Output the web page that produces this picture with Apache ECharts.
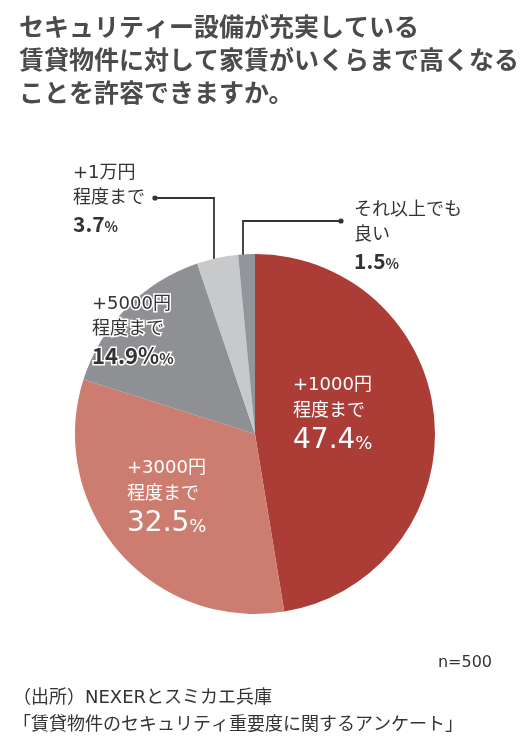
<!DOCTYPE html>
<html>
<head>
<meta charset="utf-8">
<script src="https://cdn.jsdelivr.net/npm/echarts@6/dist/echarts.min.js"></script>
<style>
html,body{margin:0;padding:0;background:#fff;}
#main{width:532px;height:742px;}
</style>
</head>
<body>
<div id="main"></div>
<script>
// ---- data ----
var categories = ['+1000円程度まで', '+3000円程度まで', '+5000円程度まで', '+1万円程度まで', 'それ以上でも良い'];
var labelLines1 = ['+1000円', '+3000円', '+5000円', '+1万円', 'それ以上でも'];
var labelLines2 = ['程度まで', '程度まで', '程度まで', '程度まで', '良い'];
var values = [47.4, 32.5, 14.9, 3.7, 1.5];
var valueSuffix = ['%', '%', '%%', '%', '%'];
var titleLines = ['セキュリティー設備が充実している', '賃貸物件に対して家賃がいくらまで高くなる', 'ことを許容できますか。'];
var sampleNote = 'n=500';
var sourceLines = ['（出所）NEXERとスミカエ兵庫', '「賃貸物件のセキュリティ重要度に関するアンケート」'];

// ---- styles ----
var FONT = '"Noto Sans CJK JP", "Noto Sans", sans-serif';
var FONT_L = '"DejaVu Sans", "Noto Sans CJK JP", sans-serif';
var colors = ['#ab3c36', '#cd7d70', '#8f9094', '#c8c9cb', '#94959a'];
var CX = 255, CY = 434, R = 180;
var labelPos = [
  {x: 293, y: 372},
  {x: 127, y: 455},
  {x: 92, y: 292},
  {x: 73, y: 161},
  {x: 354, y: 198}
];
var linePts = {
  3: [[214, 288], [214, 198], [155, 198]],
  4: [[243, 263], [243, 221], [341, 221]]
};

function richFor(i) {
  var white = i < 2;
  var col = white ? '#ffffff' : '#333333';
  var lh = i < 2 ? 26 : 25;
  var base = {color: col};
  if (i === 2) { base.textBorderColor = '#ffffff'; base.textBorderWidth = 3; }
  var bigFont = i < 2 ? FONT_L : FONT;
  var big = i < 2 ? 28 : (i === 2 ? 22 : 21);
  var lhBig = big + 6;
  var shift = i < 2 ? 7 : 5;
  return {
    a: Object.assign({fontFamily: FONT_L, fontSize: 18, lineHeight: lh}, base),
    b: Object.assign({fontFamily: bigFont, fontSize: big, lineHeight: lhBig, fontWeight: i < 2 ? 'normal' : 'bold'}, base),
    c: Object.assign({fontFamily: bigFont, fontSize: Math.round(big * 0.66), lineHeight: lhBig - shift, padding: [shift, 0, 0, 0], fontWeight: i < 2 ? 'normal' : 'bold'}, base),
    d: Object.assign({fontFamily: bigFont, fontSize: big, lineHeight: lhBig, fontWeight: 'bold'}, base)
  };
}

var pieData = categories.map(function (name, i) {
  var suffix = valueSuffix[i];
  var numPart = '{b|' + values[i].toFixed(1) + '}';
  var sufPart = suffix === '%%' ? '{d|%}{c|%}' : '{c|%}';
  return {
    name: name,
    value: values[i],
    itemStyle: {color: colors[i]},
    label: {
      show: true,
      position: i < 3 ? 'inside' : 'outside',
      formatter: '{a|' + labelLines1[i] + '}\n{a|' + labelLines2[i] + '}\n' + numPart + sufPart,
      rich: richFor(i),
      align: 'left'
    },
    labelLine: {
      show: i >= 3,
      lineStyle: {color: '#333333', width: 1.8}
    }
  };
});

var chart = echarts.init(document.getElementById('main'), null, {renderer: 'canvas'});

var option = {
  backgroundColor: '#ffffff',
  animation: false,
  title: [
    {
      text: titleLines.join('\n'),
      left: 14, top: 5,
      textStyle: {fontFamily: FONT, fontSize: 25, fontWeight: 'bold', color: '#4b4b4b', lineHeight: 33}
    },
    {
      text: sampleNote,
      right: 35, top: 650,
      textStyle: {fontFamily: FONT_L, fontSize: 16, fontWeight: 'normal', color: '#333333'}
    },
    {
      text: sourceLines.join('\n'),
      left: 8, top: 680,
      textStyle: {fontFamily: FONT_L, fontSize: 18, fontWeight: 'normal', color: '#333333', lineHeight: 27}
    }
  ],
  series: [{
    type: 'pie',
    center: [CX, CY],
    radius: [0, R],
    startAngle: 90,
    clockwise: true,
    avoidLabelOverlap: false,
    silent: true,
    itemStyle: {borderWidth: 0},
    labelLine: {smooth: false},
    data: pieData,
    labelLayout: function (p) {
      var pos = labelPos[p.dataIndex];
      var out = {x: pos.x, y: pos.y, align: 'left', verticalAlign: 'top'};
      if (linePts[p.dataIndex]) out.labelLinePoints = linePts[p.dataIndex];
      return out;
    }
  }],
  graphic: [
    {type: 'circle', shape: {cx: linePts[3][2][0], cy: linePts[3][2][1], r: 2.6}, style: {fill: '#333333'}},
    {type: 'circle', shape: {cx: linePts[4][2][0], cy: linePts[4][2][1], r: 2.6}, style: {fill: '#333333'}}
  ]
};
chart.setOption(option);
</script>
</body>
</html>
